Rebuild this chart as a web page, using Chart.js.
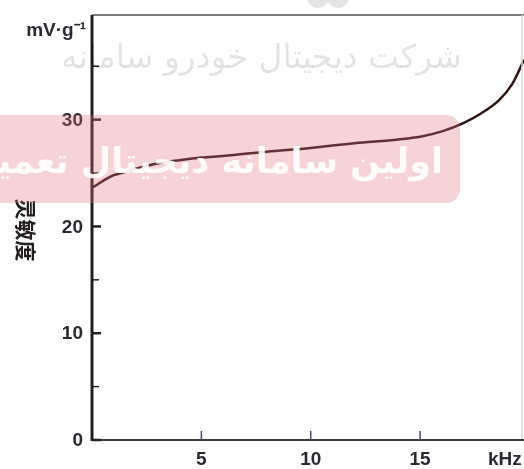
<!DOCTYPE html>
<html>
<head>
<meta charset="utf-8">
<script src="https://cdn.jsdelivr.net/npm/chart.js@4"></script>
<style>
  html, body { margin: 0; padding: 0; background: #fff; }
  #wrap { width: 524px; height: 469px; position: relative; }
</style>
</head>
<body>
<div id="wrap"><canvas id="chart" width="524" height="469"></canvas></div>
<script>
// ── data ─────────────────────────────────────────────────────
var freqKHz     = [0, 0.3, 0.7, 1, 1.5, 2, 3, 4, 5, 6, 8, 10, 12, 14, 15, 16, 17, 17.8, 18.6, 19.2, 19.75];
var sensitivity = [23.6, 24.0, 24.5, 24.8, 25.1, 25.4, 25.9, 26.2, 26.45, 26.6, 27.0, 27.35, 27.8, 28.15, 28.4, 28.9, 29.7, 30.6, 31.8, 33.3, 35.6];

var yMajorTicks = [0, 10, 20, 30];
var yMinorTicks = [5, 15, 25, 35];
var xTicks      = [5, 10, 15];
var xUnit       = 'kHz';
var yUnit       = 'mV·g⁻¹';
var yTitle      = '灵敏度';

var points = freqKHz.map(function (f, i) { return { x: f, y: sensitivity[i] }; });

var LABEL_FONT = 'bold 19px "Liberation Sans", Arial, sans-serif';
var INK        = '#231f1f';

// axes, ticks and labels are drawn by hand so the frame matches the scan
var axesPlugin = {
    id: 'scanAxes',
    afterDatasetsDraw: function (chart) {
        var c  = chart.ctx;
        var a  = chart.chartArea;
        var xs = chart.scales.x;
        var ys = chart.scales.y;

        c.save();
        // light top / right frame
        c.strokeStyle = '#7a7a7a';
        c.lineWidth = 2;
        c.beginPath();
        c.moveTo(a.left, a.top); c.lineTo(a.right, a.top);
        c.stroke();
        c.strokeStyle = '#d8d8d8';
        c.lineWidth = 1.5;
        c.beginPath();
        c.moveTo(a.right - 2, a.top); c.lineTo(a.right - 2, a.bottom);
        c.stroke();

        // x axis
        c.strokeStyle = '#3a3a3a';
        c.lineWidth = 2;
        c.beginPath();
        c.moveTo(a.left, a.bottom); c.lineTo(a.right, a.bottom);
        c.stroke();

        // y axis
        c.strokeStyle = INK;
        c.lineWidth = 3;
        c.beginPath();
        c.moveTo(a.left, a.top); c.lineTo(a.left, a.bottom + 1);
        c.stroke();

        // y ticks (inside)
        c.lineWidth = 2.5;
        yMajorTicks.forEach(function (v) {
            var py = ys.getPixelForValue(v);
            c.beginPath(); c.moveTo(a.left, py); c.lineTo(a.left + 9, py); c.stroke();
        });
        c.lineWidth = 1.5;
        yMinorTicks.forEach(function (v) {
            var py = ys.getPixelForValue(v);
            c.beginPath(); c.moveTo(a.left, py); c.lineTo(a.left + 7, py); c.stroke();
        });

        // x ticks (inside)
        c.strokeStyle = '#4a4a5a';
        c.lineWidth = 1.5;
        xTicks.forEach(function (v) {
            var px = xs.getPixelForValue(v);
            c.beginPath(); c.moveTo(px, a.bottom); c.lineTo(px, a.bottom - 9); c.stroke();
        });

        // tick labels
        c.fillStyle = '#2a2a30';
        c.font = LABEL_FONT;
        c.textAlign = 'right';
        c.textBaseline = 'middle';
        yMajorTicks.forEach(function (v) {
            c.fillText(String(v), a.left - 9, ys.getPixelForValue(v) + 1);
        });
        c.textAlign = 'center';
        c.textBaseline = 'top';
        xTicks.forEach(function (v) {
            c.fillText(String(v), xs.getPixelForValue(v), a.bottom + 10);
        });
        c.textAlign = 'left';
        c.fillText(xUnit, 488, a.bottom + 10);

        // unit on top of y axis
        c.font = 'bold 19px "Liberation Sans", Arial, sans-serif';
        c.textAlign = 'right';
        c.textBaseline = 'middle';
        c.fillText(yUnit, 86, 31);

        // y title, glyphs turned clockwise
        c.fillStyle = INK;
        c.translate(26, 230);
        c.rotate(Math.PI / 2);
        c.font = 'bold 21px "Noto Sans CJK SC", sans-serif';
        c.textAlign = 'center';
        c.fillText(yTitle, 0, 0);
        c.restore();
    }
};

// the watermark printed across the scan
var watermarkPlugin = {
    id: 'watermark',
    afterDraw: function (chart) {
        var c = chart.ctx;
        c.save();
        c.fillStyle = 'rgba(0,0,0,0.1)';
        c.beginPath(); c.arc(318, -3, 11, 0, Math.PI * 2); c.fill();
        c.beginPath(); c.arc(338, -3, 11, 0, Math.PI * 2); c.fill();

        c.fillStyle = 'rgba(0,0,0,0.11)';
        c.font = '33px "DejaVu Sans", sans-serif';
        c.textAlign = 'right';
        c.textBaseline = 'alphabetic';
        c.direction = 'rtl';
        c.fillText('شرکت دیجیتال خودرو سامانه', 462, 68);

        c.fillStyle = 'rgba(225,110,118,0.3)';
        c.beginPath();
        c.roundRect(-20, 115, 480, 88, 14);
        c.fill();

        c.fillStyle = 'rgba(255,255,255,0.9)';
        c.font = 'bold 35px "DejaVu Sans", sans-serif';
        c.fillText('اولین سامانه دیجیتال تعمیرکاران', 443, 173);
        c.restore();
    }
};

new Chart(document.getElementById('chart'), {
    type: 'scatter',
    data: {
        datasets: [{
            data: points,
            showLine: true,
            borderColor: '#2b1616',
            borderWidth: 2.5,
            pointRadius: 0,
            cubicInterpolationMode: 'monotone',
            fill: false
        }]
    },
    options: {
        responsive: false,
        animation: false,
        layout: { padding: { left: 92, top: 15, right: 0, bottom: 29 } },
        plugins: { legend: { display: false }, tooltip: { enabled: false } },
        scales: {
            x: { type: 'linear', min: 0, max: 19.75, display: false },
            y: { type: 'linear', min: 0, max: 39.8, display: false }
        }
    },
    plugins: [axesPlugin, watermarkPlugin]
});
</script>
</body>
</html>
